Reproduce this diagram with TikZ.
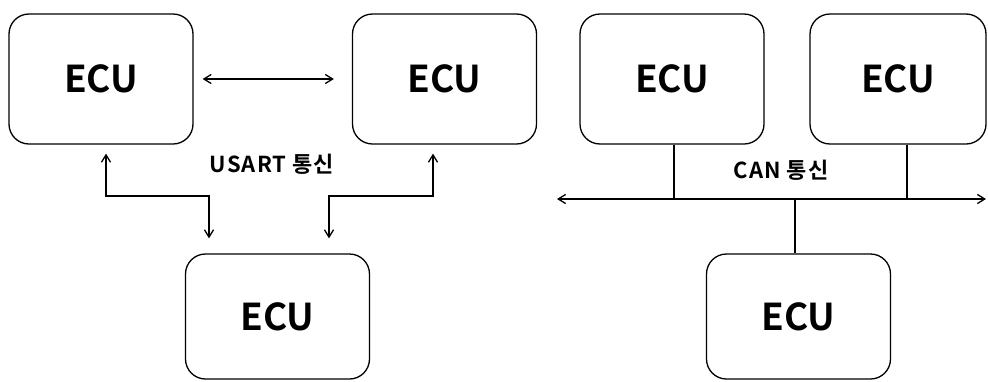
\documentclass[tikz,border=0pt]{standalone}
\usepackage{fontspec}
\setmainfont{Noto Sans CJK KR}[BoldFont={Noto Sans CJK KR Bold}]
\usetikzlibrary{positioning, arrows.meta}

\begin{document}
\begin{tikzpicture}[
        x=1pt, y=-1pt,
        ecu/.style  = {draw, line width=1.3pt, rounded corners=20pt, minimum width=184pt, minimum height=130pt, inner sep=0pt, font=\fontsize{37}{40}\selectfont\bfseries},
        lbl/.style  = {font=\fontsize{22}{24}\selectfont\bfseries\addfontfeature{LetterSpace=5}, inner sep=0pt},
        arrow/.style = {{Straight Barb[length=2.6mm, width=3.2mm]}-{Straight Barb[length=2.6mm, width=3.2mm]}, line width=1.3pt},
        uarrow/.style = {-{Straight Barb[length=2.6mm, width=3.2mm]}, line width=1.3pt},
        bus/.style  = {line width=1.3pt},
    ]
        \useasboundingbox (0,0) rectangle (988,381);
        % USART side
        \node[ecu] (u1) at (101,79) {ECU};
        \node[ecu] (u2) at (444.5,79) {ECU};
        \node[ecu, minimum height=125pt] (u3) at (277.5,316.5) {ECU};
        \node[lbl] (usart) at (272,164) {USART 통신};
        \draw[arrow] ([xshift=9pt]u1.east) -- ([xshift=-18pt]u2.west);
        \coordinate (l1) at (106,196);
        \coordinate (l2) at (209,196);
        \coordinate (r1) at (433,196);
        \coordinate (r2) at (329,196);
        \draw[uarrow] (l2) -- (l1) -- ([yshift=-9pt]u1.south -| l1);
        \draw[uarrow] (l1) -- (l2) -- ([yshift=15pt]u3.north -| l2);
        \draw[uarrow] (r2) -- (r1) -- ([yshift=-9pt]u2.south -| r1);
        \draw[uarrow] (r1) -- (r2) -- ([yshift=15pt]u3.north -| r2);
        % CAN side
        \node[ecu] (c1) at (672,79) {ECU};
        \node[ecu, minimum width=176pt] (c2) at (898,79) {ECU};
        \node[ecu, minimum height=125pt] (c3) at (798.5,316.5) {ECU};
        \node[lbl] (can) at (781,170) {CAN 통신};
        \coordinate (busl) at (557,199);
        \coordinate (busr) at (986,199);
        \coordinate (tap1) at (674,199);
        \coordinate (tap2) at (907,199);
        \coordinate (tap3) at (795,199);
        \draw[arrow] (busl) -- (busr);
        \draw[bus] (c1.south -| tap1) -- (tap1);
        \draw[bus] (c2.south -| tap2) -- (tap2);
        \draw[bus] (tap3) -- (c3.north -| tap3);
    \end{tikzpicture}
\end{document}
